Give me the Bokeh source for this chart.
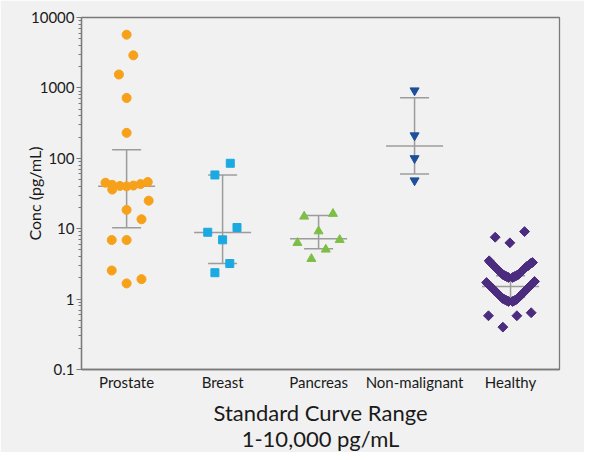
import math

from bokeh.plotting import figure
from bokeh.models import FixedTicker, Range1d, Title, ColumnDataSource
from bokeh.embed import file_html
from bokeh.resources import INLINE

categories = ["Prostate", "Breast", "Pancreas", "Non-malignant", "Healthy"]

# measured values (pg/mL) and swarm offsets (fraction of a category width)
prostate = [5700, 2900, 1550, 720, 230, 45, 42, 36, 40.5, 40, 41, 43, 46,
            25, 18.5, 13.6, 6.9, 6.9, 2.55, 1.67, 1.92]
prostate_dx = [0, 0.07, -0.08, 0, 0, -0.22, -0.15, -0.15, -0.07, 0, 0.07, 0.145, 0.22,
               0.23, 0, 0.155, -0.155, 0, -0.155, 0, 0.155]

breast = [85, 58, 10.4, 8.9, 6.95, 3.2, 2.37]
breast_dx = [0.08, -0.08, 0.15, -0.155, 0, 0.075, -0.08]

pancreas = [14.9, 16.3, 9.2, 6.3, 6.95, 5.07, 3.73]
pancreas_dx = [-0.15, 0.15, 0, -0.22, 0.22, 0.075, -0.075]

nonmalignant = [918, 211, 100, 48.4]
nonmalignant_dx = [0, 0, 0, 0]

healthy = [7.57, 6.3, 9.1, 0.58, 0.58, 0.64, 0.40, 3.5,
           3.31, 3.10, 2.90, 2.72, 2.55, 2.39, 2.24, 2.16, 2.09, 2.03,
           2.03, 2.09, 2.16, 2.24, 2.39, 2.55, 2.72, 2.90, 3.00, 3.21, 3.31,
           1.72, 1.61, 1.51, 1.41, 1.33, 1.24, 1.16, 1.09, 1.02, 0.99, 0.955, 0.925,
           0.925, 0.955, 0.99, 1.05, 1.12, 1.20, 1.28, 1.37, 1.46, 1.56, 1.67, 1.78]
healthy_dx = [-0.16, -0.007, 0.146, -0.23, 0.066, 0.215, -0.08, -0.223,
              -0.208, -0.1875, -0.167, -0.146, -0.125, -0.104, -0.083, -0.063, -0.042, -0.021,
              0.021, 0.042, 0.063, 0.083, 0.104, 0.125, 0.146, 0.167, 0.1875, 0.208, 0.229,
              -0.25, -0.229, -0.208, -0.1875, -0.167, -0.146, -0.125, -0.104, -0.083, -0.063, -0.042, -0.021,
              0.021, 0.042, 0.063, 0.083, 0.104, 0.125, 0.146, 0.167, 0.1875, 0.208, 0.229, 0.25]

# summary lines per group: centre line and bar ends
centre = [40, 8.8, 7.2, 150, 1.51]
lower = [10.3, 3.2, 5.2, 60, 1.06]
upper = [132, 58, 15.4, 723, 2.14]

y_ticks = [0.1, 1, 10, 100, 1000, 10000]
y_tick_labels = ["0.1", "1", "10", "100", "1000", "10000"]

# marker, colour, size, angle
groups = [
    (prostate, prostate_dx, "circle", "#F7A11A", 9, 0),
    (breast, breast_dx, "square", "#1BA9E1", 8, 0),
    (pancreas, pancreas_dx, "triangle", "#7DBE45", 9, 0),
    (nonmalignant, nonmalignant_dx, "inverted_triangle", "#1D4F9A", 9, 0),
    (healthy, healthy_dx, "square", "#4B2C7F", 7, math.pi / 4),
]

FONT = "Lato"
TEXT = "#1a1a1a"
BG = "#f1f1f1"
AXIS = "#7a7a7a"

p = figure(width=584, height=452, y_axis_type="log",
           x_range=Range1d(-0.47, 4.51), y_range=Range1d(0.1, 10000),
           output_backend="svg", toolbar_location=None,
           min_border_left=81, min_border_right=25, min_border_top=17, min_border_bottom=83)

p.background_fill_color = BG
p.border_fill_color = BG
p.outline_line_color = AXIS
p.outline_line_width = 1.3
p.grid.visible = False

# error bars
idx = list(range(len(categories)))
summ = ColumnDataSource(dict(x=idx, c=centre, lo=lower, hi=upper))
bar_col = "#9c9c9c"
p.segment(x0="x", x1="x", y0="lo", y1="hi", source=summ, line_color=bar_col, line_width=1.5)
p.scatter("x", "lo", source=summ, marker="dash", size=29, line_color=bar_col, line_width=1.5)
p.scatter("x", "hi", source=summ, marker="dash", size=29, line_color=bar_col, line_width=1.5)
p.scatter("x", "c", source=summ, marker="dash", size=57, line_color=bar_col, line_width=1.5)

for i, (vals, dx, marker, color, size, ang) in enumerate(groups):
    xs = [i + d for d in dx]
    p.scatter(xs, vals, marker=marker, size=size, angle=ang,
              fill_color=color, line_color=color)

# x axis
p.xaxis.ticker = FixedTicker(ticks=idx)
p.xaxis.major_label_overrides = {i: c for i, c in enumerate(categories)}
p.xaxis.major_tick_out = 0
p.xaxis.major_tick_in = 0
p.xaxis.minor_tick_out = 0
p.xaxis.minor_tick_in = 0
p.xaxis.major_tick_line_color = None
p.xaxis.minor_tick_line_color = None
p.xaxis.major_label_standoff = 3
p.xaxis.major_label_text_font_size = "15px"
p.xaxis.axis_label = "Standard Curve Range"
p.xaxis.axis_label_standoff = 5
p.xaxis.axis_label_text_font_size = "22px"

# y axis
minor = [k * 10.0 ** e for e in range(-1, 4) for k in range(2, 10)]
p.yaxis.ticker = FixedTicker(ticks=y_ticks, minor_ticks=minor)
p.yaxis.major_label_overrides = dict(zip(y_ticks, y_tick_labels))
p.yaxis.major_tick_out = 5
p.yaxis.major_tick_in = 0
p.yaxis.minor_tick_out = 3
p.yaxis.minor_tick_in = 0
p.yaxis.major_tick_line_color = AXIS
p.yaxis.minor_tick_line_color = AXIS
p.yaxis.major_label_standoff = 2
p.yaxis.major_label_text_font_size = "15px"
p.yaxis.axis_label = "Conc (pg/mL)"
p.yaxis.axis_label_standoff = -16
p.yaxis.axis_label_text_font_size = "16px"

for ax in (p.xaxis[0], p.yaxis[0]):
    ax.axis_line_color = AXIS
    ax.axis_line_width = 1.3
    ax.major_label_text_font = FONT
    ax.major_label_text_color = TEXT
    ax.axis_label_text_font = FONT
    ax.axis_label_text_font_style = "normal"
    ax.axis_label_text_color = TEXT

p.add_layout(Title(text="1-10,000 pg/mL", align="center", text_font=FONT,
                   text_font_size="22px", text_font_style="normal",
                   text_color=TEXT, standoff=-12), "below")

open("out.html", "w").write(file_html(p, INLINE))
